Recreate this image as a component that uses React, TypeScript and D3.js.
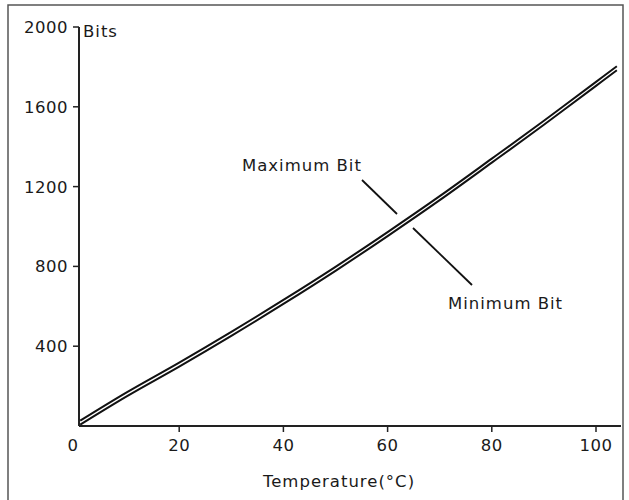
import React from "react";
import * as d3 from "d3";

const temperatures = [1, 10, 20, 30, 40, 50, 60, 70, 80, 90, 100, 104];
const maxBits = [27, 170, 318, 472, 632, 798, 972, 1152, 1340, 1530, 1725, 1803];
const minBits = [7, 150, 298, 452, 612, 778, 952, 1132, 1320, 1510, 1705, 1783];
const xTicks = [0, 20, 40, 60, 80, 100];
const yTicks = [400, 800, 1200, 1600, 2000];

const W = 629;
const H = 500;
const FONT = "'DejaVu Sans', sans-serif";

export default function App() {
  const x = d3.scaleLinear().domain([0, 100]).range([75, 596]);
  const y = d3.scaleLinear().domain([0, 2000]).range([426, 27]);
  const axisX = 79;
  const axisRight = 621;

  const line = d3
    .line<number>()
    .x((_, i) => x(temperatures[i]))
    .y((d) => y(d))
    .curve(d3.curveCatmullRom.alpha(0.5));

  const txt = { fontSize: 16.5, fill: "#1a1a1a", letterSpacing: 1 } as const;

  return (
    <svg
      width={W}
      height={H}
      style={{ position: "absolute", left: 0, top: 0, background: "#fff" }}
      fontFamily={FONT}
    >
      <rect x={8} y={5} width={615} height={510} fill="#fff" stroke="#555" strokeWidth={1.5} />

      {/* y axis */}
      <line x1={axisX} x2={axisX} y1={y(2000)} y2={y(0)} stroke="#222" strokeWidth={2} />
      {yTicks.map((t) => (
        <g key={"y" + t}>
          <line x1={axisX - 6} x2={axisX} y1={y(t)} y2={y(t)} stroke="#222" strokeWidth={1.5} />
          <text x={68} y={y(t)} dy="0.36em" textAnchor="end" {...txt} letterSpacing={0.5}>
            {t}
          </text>
        </g>
      ))}
      <text x={83} y={y(2000) + 4} dy="0.36em" {...txt}>
        Bits
      </text>

      {/* x axis */}
      <line x1={axisX} x2={axisRight} y1={y(0)} y2={y(0)} stroke="#222" strokeWidth={2} />
      {xTicks.map((t) => (
        <g key={"x" + t}>
          {t > 0 && (
            <line x1={x(t)} x2={x(t)} y1={y(0)} y2={y(0) + 6} stroke="#222" strokeWidth={1.5} />
          )}
          <text x={x(t) - (t === 0 ? 2 : 0)} y={451} textAnchor="middle" {...txt} letterSpacing={0.5}>
            {t}
          </text>
        </g>
      ))}
      <text x={339} y={487} textAnchor="middle" {...txt}>
        Temperature(°C)
      </text>

      {/* series */}
      <path d={line(maxBits) || ""} fill="none" stroke="#111" strokeWidth={2} />
      <path d={line(minBits) || ""} fill="none" stroke="#111" strokeWidth={2} />

      {/* annotations */}
      <text x={242} y={171} {...txt}>
        Maximum Bit
      </text>
      <line x1={362} y1={180} x2={397} y2={214} stroke="#111" strokeWidth={1.8} />
      <text x={448} y={309} {...txt}>
        Minimum Bit
      </text>
      <line x1={413} y1={228} x2={472} y2={285} stroke="#111" strokeWidth={1.8} />
    </svg>
  );
}
